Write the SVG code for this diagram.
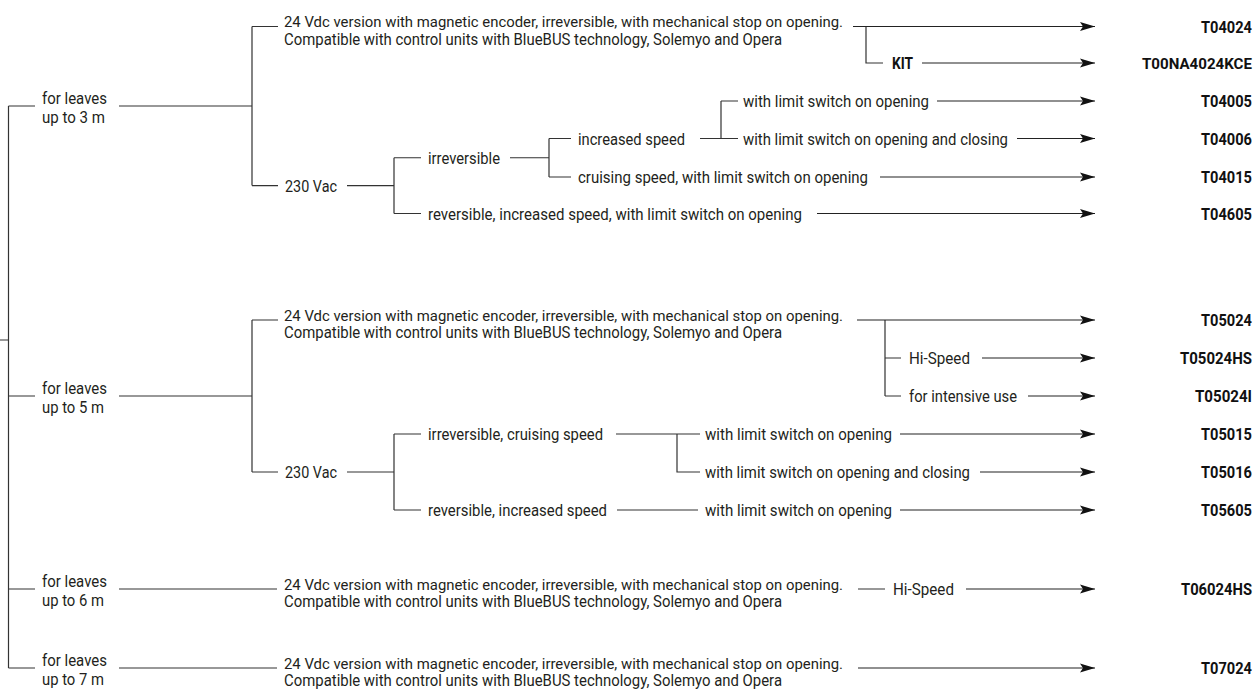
<svg xmlns="http://www.w3.org/2000/svg" width="1258" height="692" viewBox="0 0 1258 692">
<defs>
<style>
.t{font-family:Roboto,"Liberation Sans",Arial,sans-serif;font-size:16.5px;fill:#231f20}
.t1{font-size:15.5px}
.b{font-family:Roboto,"Liberation Sans",Arial,sans-serif;font-size:16.5px;font-weight:bold;fill:#111}
.c{font-family:Roboto,"Liberation Sans",Arial,sans-serif;font-size:16.5px;font-weight:bold;fill:#111}
.cs{font-size:15.5px}
.ln{stroke:#333;stroke-width:1.2;fill:none}
.ar{stroke:#222;stroke-width:1.2;fill:none;marker-end:url(#ah)}
</style>
<marker id="ah" markerUnits="userSpaceOnUse" markerWidth="16" markerHeight="10" refX="15" refY="5" orient="auto"><path d="M0,0.5 L15,5 L0,9.5 L3,5 Z" fill="#111"/></marker>
</defs>
<rect width="1258" height="692" fill="#fff"/>
<g id="connectors">
<path class="ln" d="M0,340H8.5M8.5,106V668M8.5,106H35M8.5,396H35M8.5,589H35M8.5,668H35"/>
<path class="ln" d="M119,106H252M252,26.5V185.6M252,26.5H278M252,185.6H278"/>
<path class="ln" d="M866,26.5V63H883"/>
<path class="ln" d="M347,185.6H394M394,157.75V213.5M394,157.75H421M394,213.5H421"/>
<path class="ln" d="M510,157.75H549M549,138.5V177M549,138.5H571M549,177H571"/>
<path class="ln" d="M700,138.5H738M721,101V138.5M721,101H738"/>
<path class="ar" d="M853,26.5H1095"/>
<path class="ar" d="M922,63H1095"/>
<path class="ar" d="M937,101H1095"/>
<path class="ar" d="M1017,138.5H1095"/>
<path class="ar" d="M880,177H1095"/>
<path class="ar" d="M817,213.5H1095"/>
<path class="ln" d="M119,396H252M252,320V472M252,320H278M252,472H278"/>
<path class="ln" d="M885,320V396M885,358H901M885,396H901"/>
<path class="ln" d="M347,472H394M394,434V510M394,434H421M394,510H421"/>
<path class="ln" d="M616,434H700M677,434V472H700"/>
<path class="ln" d="M617,510H698"/>
<path class="ar" d="M857,320H1095"/>
<path class="ar" d="M982,358H1095"/>
<path class="ar" d="M1028,396H1095"/>
<path class="ar" d="M900,434H1095"/>
<path class="ar" d="M980,472H1095"/>
<path class="ar" d="M900,510H1095"/>
<path class="ln" d="M119,589H277M858,589H885"/>
<path class="ar" d="M966,589H1095"/>
<path class="ln" d="M119,668H277"/>
<path class="ar" d="M858,668H1095"/>
</g>

<g id="leaves3">
<text class="t" x="42" y="104" textLength="65" lengthAdjust="spacingAndGlyphs">for leaves</text>
<text class="t" x="42" y="123" textLength="63" lengthAdjust="spacingAndGlyphs">up to 3 m</text>
</g>
<g id="v24-3">
<text class="t t1" x="284" y="27" textLength="559" lengthAdjust="spacingAndGlyphs">24 Vdc version with magnetic encoder, irreversible, with mechanical stop on opening.</text>
<text class="t" x="284" y="44.5" textLength="498" lengthAdjust="spacingAndGlyphs">Compatible with control units with BlueBUS technology, Solemyo and Opera</text>
</g>
<g id="kit"><text class="b" x="892" y="69" textLength="21" lengthAdjust="spacingAndGlyphs">KIT</text></g>
<g id="vac-3"><text class="t" x="285" y="191.5" textLength="52" lengthAdjust="spacingAndGlyphs">230 Vac</text></g>
<g id="irr-3"><text class="t" x="428" y="163.5" textLength="72" lengthAdjust="spacingAndGlyphs">irreversible</text></g>
<g id="inc-3"><text class="t" x="578" y="144.5" textLength="107" lengthAdjust="spacingAndGlyphs">increased speed</text></g>
<g id="ls1-3"><text class="t" x="743" y="107" textLength="186" lengthAdjust="spacingAndGlyphs">with limit switch on opening</text></g>
<g id="ls2-3"><text class="t" x="743" y="144.5" textLength="265" lengthAdjust="spacingAndGlyphs">with limit switch on opening and closing</text></g>
<g id="cru-3"><text class="t" x="578" y="183" textLength="290" lengthAdjust="spacingAndGlyphs">cruising speed, with limit switch on opening</text></g>
<g id="rev-3"><text class="t" x="428" y="219.5" textLength="374" lengthAdjust="spacingAndGlyphs">reversible, increased speed, with limit switch on opening</text></g>

<g id="leaves5">
<text class="t" x="42" y="394" textLength="65" lengthAdjust="spacingAndGlyphs">for leaves</text>
<text class="t" x="42" y="413" textLength="62" lengthAdjust="spacingAndGlyphs">up to 5 m</text>
</g>
<g id="v24-5">
<text class="t t1" x="284" y="320.5" textLength="559" lengthAdjust="spacingAndGlyphs">24 Vdc version with magnetic encoder, irreversible, with mechanical stop on opening.</text>
<text class="t" x="284" y="338" textLength="498" lengthAdjust="spacingAndGlyphs">Compatible with control units with BlueBUS technology, Solemyo and Opera</text>
</g>
<g id="hs-5"><text class="t" x="909" y="364" textLength="61" lengthAdjust="spacingAndGlyphs">Hi-Speed</text></g>
<g id="int-5"><text class="t" x="909" y="402" textLength="108" lengthAdjust="spacingAndGlyphs">for intensive use</text></g>
<g id="vac-5"><text class="t" x="285" y="478" textLength="52" lengthAdjust="spacingAndGlyphs">230 Vac</text></g>
<g id="irr-5"><text class="t" x="428" y="440" textLength="175" lengthAdjust="spacingAndGlyphs">irreversible, cruising speed</text></g>
<g id="ls1-5"><text class="t" x="705" y="440" textLength="187" lengthAdjust="spacingAndGlyphs">with limit switch on opening</text></g>
<g id="ls2-5"><text class="t" x="705" y="478" textLength="265" lengthAdjust="spacingAndGlyphs">with limit switch on opening and closing</text></g>
<g id="rev-5"><text class="t" x="428" y="516" textLength="179" lengthAdjust="spacingAndGlyphs">reversible, increased speed</text></g>
<g id="ls3-5"><text class="t" x="705" y="516" textLength="187" lengthAdjust="spacingAndGlyphs">with limit switch on opening</text></g>

<g id="leaves6">
<text class="t" x="42" y="587" textLength="65" lengthAdjust="spacingAndGlyphs">for leaves</text>
<text class="t" x="42" y="606" textLength="62" lengthAdjust="spacingAndGlyphs">up to 6 m</text>
</g>
<g id="v24-6">
<text class="t t1" x="284" y="589.5" textLength="559" lengthAdjust="spacingAndGlyphs">24 Vdc version with magnetic encoder, irreversible, with mechanical stop on opening.</text>
<text class="t" x="284" y="607" textLength="498" lengthAdjust="spacingAndGlyphs">Compatible with control units with BlueBUS technology, Solemyo and Opera</text>
</g>
<g id="hs-6"><text class="t" x="893" y="595" textLength="61" lengthAdjust="spacingAndGlyphs">Hi-Speed</text></g>

<g id="leaves7">
<text class="t" x="42" y="666" textLength="65" lengthAdjust="spacingAndGlyphs">for leaves</text>
<text class="t" x="42" y="685" textLength="62" lengthAdjust="spacingAndGlyphs">up to 7 m</text>
</g>
<g id="v24-7">
<text class="t t1" x="284" y="668.5" textLength="559" lengthAdjust="spacingAndGlyphs">24 Vdc version with magnetic encoder, irreversible, with mechanical stop on opening.</text>
<text class="t" x="284" y="686" textLength="498" lengthAdjust="spacingAndGlyphs">Compatible with control units with BlueBUS technology, Solemyo and Opera</text>
</g>

<g id="codes">
<g id="T04024"><text class="c" x="1201" y="32.5" textLength="51" lengthAdjust="spacingAndGlyphs">T04024</text></g>
<g id="T00NA4024KCE"><text class="c cs" x="1142" y="69" textLength="110" lengthAdjust="spacingAndGlyphs">T00NA4024KCE</text></g>
<g id="T04005"><text class="c" x="1201" y="107" textLength="51" lengthAdjust="spacingAndGlyphs">T04005</text></g>
<g id="T04006"><text class="c" x="1201" y="144.5" textLength="51" lengthAdjust="spacingAndGlyphs">T04006</text></g>
<g id="T04015"><text class="c" x="1201" y="183" textLength="51" lengthAdjust="spacingAndGlyphs">T04015</text></g>
<g id="T04605"><text class="c" x="1201" y="219.5" textLength="51" lengthAdjust="spacingAndGlyphs">T04605</text></g>
<g id="T05024"><text class="c" x="1201" y="326" textLength="51" lengthAdjust="spacingAndGlyphs">T05024</text></g>
<g id="T05024HS"><text class="c" x="1180" y="364" textLength="72" lengthAdjust="spacingAndGlyphs">T05024HS</text></g>
<g id="T05024I"><text class="c" x="1195" y="402" textLength="57" lengthAdjust="spacingAndGlyphs">T05024I</text></g>
<g id="T05015"><text class="c" x="1201" y="440" textLength="51" lengthAdjust="spacingAndGlyphs">T05015</text></g>
<g id="T05016"><text class="c" x="1201" y="478" textLength="51" lengthAdjust="spacingAndGlyphs">T05016</text></g>
<g id="T05605"><text class="c" x="1201" y="516" textLength="51" lengthAdjust="spacingAndGlyphs">T05605</text></g>
<g id="T06024HS"><text class="c" x="1181" y="595" textLength="71" lengthAdjust="spacingAndGlyphs">T06024HS</text></g>
<g id="T07024"><text class="c" x="1201" y="674" textLength="51" lengthAdjust="spacingAndGlyphs">T07024</text></g>
</g>
</svg>
